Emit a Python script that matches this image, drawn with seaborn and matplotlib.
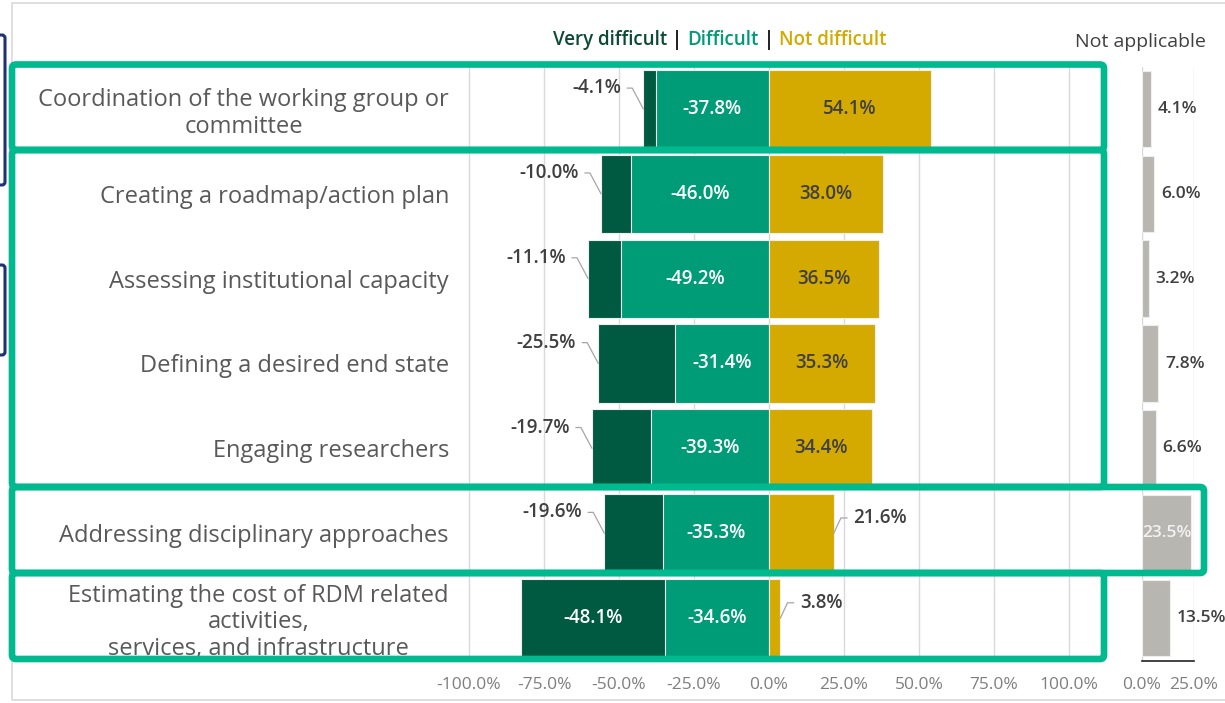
import numpy as np
import pandas as pd
import matplotlib
matplotlib.use("Agg")
import matplotlib.pyplot as plt
import seaborn as sns
from matplotlib.patches import FancyBboxPatch
from matplotlib.transforms import IdentityTransform


categories = [
    "Coordination of the working group or\ncommittee",
    "Creating a roadmap/action plan",
    "Assessing institutional capacity",
    "Defining a desired end state",
    "Engaging researchers",
    "Addressing disciplinary approaches",
    "Estimating the cost of RDM related\nactivities,\nservices, and infrastructure",
]
very_difficult = [4.1, 10.0, 11.1, 25.5, 19.7, 19.6, 48.1]
difficult = [37.8, 46.0, 49.2, 31.4, 39.3, 35.3, 34.6]
not_difficult = [54.1, 38.0, 36.5, 35.3, 34.4, 21.6, 3.8]
not_applicable = [4.1, 6.0, 3.2, 7.8, 6.6, 23.5, 13.5]
x_ticks = [-100, -75, -50, -25, 0, 25, 50, 75, 100]
na_ticks = [0, 25]

C_VERY = "#005a41"
C_DIFF = "#009b77"
C_NOT = "#d5aa00"
C_NA = "#b8b6b1"
C_BOX = "#00b98e"
C_NAVY = "#1f3272"
TXT = "#404040"

sns.set_theme(style="white")
plt.rcParams["font.family"] = ["Open Sans", "DejaVu Sans"]

df = pd.DataFrame({
    "category": categories,
    "very": very_difficult,
    "difficult": difficult,
    "not_difficult": not_difficult,
    "not_applicable": not_applicable,
})
df["neg_total"] = -(df["very"] + df["difficult"])
df["neg_diff"] = -df["difficult"]

W, H = 1225, 703
fig = plt.figure(figsize=(W / 100, H / 100), dpi=100)
ax = fig.add_axes([460 / W, 42.5 / H, 618 / W, 594 / H])
ax2 = fig.add_axes([1142 / W, 42.5 / H, 52 / W, 594 / H])

bar_kw = dict(orient="h", width=0.92, saturation=1, errorbar=None,
              edgecolor="#eeeeee", linewidth=0.8)
sns.barplot(data=df, x="neg_total", y="category", color=C_VERY, ax=ax, **bar_kw)
sns.barplot(data=df, x="neg_diff", y="category", color=C_DIFF, ax=ax, **bar_kw)
sns.barplot(data=df, x="not_difficult", y="category", color=C_NOT, ax=ax, **bar_kw)

ax.set_xlim(-103, 103)
ax.set_ylim(6.5, -0.5)
ax.set_xticks(x_ticks)
ax.set_xticklabels([f"{t:.1f}%" for t in x_ticks])
ax.xaxis.grid(True, color="#d9d9d9", lw=1)
ax.set_axisbelow(True)
ax.set_xlabel("")
ax.set_ylabel("")
for s in ax.spines.values():
    s.set_visible(False)
ax.tick_params(axis="x", length=0, pad=12, labelsize=12.5, labelcolor="#7f7f7f")
ax.tick_params(axis="y", length=0, pad=8, labelsize=17, labelcolor="#595959")
for lab in ax.get_yticklabels():
    lab.set_multialignment("center")
    lab.set_linespacing(1.15)

lab_kw = dict(fontsize=13.5, fontweight="semibold", va="center")
for i in range(len(categories)):
    v, d, n = very_difficult[i], difficult[i], not_difficult[i]
    # difficult (always inside)
    ax.text(-d / 2, i, f"-{d:.1f}%", ha="center", color="white", **lab_kw)
    # very difficult
    if v > 30:
        ax.text(-(d + v / 2), i, f"-{v:.1f}%", ha="center", color="white", **lab_kw)
    else:
        ax.annotate(f"-{v:.1f}%", xy=(-(d + v), i), xytext=(-16, 15),
                    textcoords="offset points", ha="right", color=TXT,
                    arrowprops=dict(arrowstyle="-", color="#a6a6a6", lw=0.9,
                                    shrinkA=2, shrinkB=0,
                                    connectionstyle="angle,angleA=0,angleB=118,rad=0"),
                    **lab_kw)
    # not difficult
    if n > 25:
        ax.text(n / 2, i, f"{n:.1f}%", ha="center", color=TXT, **lab_kw)
    else:
        ax.annotate(f"{n:.1f}%", xy=(n, i), xytext=(14, 11),
                    textcoords="offset points", ha="left", color=TXT,
                    arrowprops=dict(arrowstyle="-", color="#a6a6a6", lw=0.9,
                                    shrinkA=2, shrinkB=0,
                                    connectionstyle="angle,angleA=0,angleB=65,rad=0"),
                    **lab_kw)

# not applicable panel
sns.barplot(data=df, x="not_applicable", y="category", color=C_NA, ax=ax2,
            orient="h", width=0.9, saturation=1, errorbar=None,
            edgecolor="#eeeeee", linewidth=0.8)
ax2.set_xlim(0, 25)
ax2.set_ylim(6.5, -0.5)
ax2.set_xticks(na_ticks)
ax2.set_xticklabels([f"{t:.1f}%" for t in na_ticks])
ax2.xaxis.grid(True, color="#d9d9d9", lw=1)
ax2.set_axisbelow(True)
ax2.set_xlabel("")
ax2.set_ylabel("")
for k, s in ax2.spines.items():
    s.set_visible(k == "bottom")
ax2.spines["bottom"].set_color("#222222")
ax2.spines["bottom"].set_linewidth(1.2)
ax2.tick_params(axis="y", left=False, labelleft=False)
ax2.tick_params(axis="x", direction="in", length=5, width=1.2, color="#222222",
                pad=12, labelsize=12.5, labelcolor="#7f7f7f")
na_kw = dict(lab_kw, fontsize=12.5)
for i, na in enumerate(not_applicable):
    if na > 20:
        ax2.text(na / 2, i, f"{na:.1f}%", ha="center", color="#f2f2f2", **na_kw)
    else:
        ax2.annotate(f"{na:.1f}%", xy=(na, i), xytext=(5, 0),
                     textcoords="offset points", ha="left", color=TXT, **na_kw)

# header texts
hdr = dict(fontsize=13.5, va="center")
t1 = fig.text(553 / W, 1 - 40 / H, "Very difficult", color="#0b4a36",
              fontweight="semibold", **hdr)
t2 = ax.annotate(" | ", xy=(1, 0.5), xycoords=t1, color="#262626",
                 fontweight="bold", **hdr)
t3 = ax.annotate("Difficult", xy=(1, 0.5), xycoords=t2, color=C_DIFF,
                 fontweight="semibold", **hdr)
t4 = ax.annotate(" | ", xy=(1, 0.5), xycoords=t3, color="#262626",
                 fontweight="bold", **hdr)
ax.annotate("Not difficult", xy=(1, 0.5), xycoords=t4, color=C_NOT,
            fontweight="semibold", **hdr)
fig.text(1140 / W, 1 - 42 / H, "Not applicable", color=TXT, fontsize=14,
         ha="center", va="center")

# outer frame
fig.add_artist(plt.Rectangle((12, 3), 1300, 697, transform=IdentityTransform(),
                             fill=False, edgecolor="#d9d9d9", lw=1.2, zorder=0))

# highlight boxes (pixel coordinates, origin top-left)
boxes = [(12, 64.5, 1104, 150), (12, 150, 1104, 487),
         (12, 487, 1204, 573), (12, 573, 1104, 659)]
for x0, y0, x1, y1 in boxes:
    fig.add_artist(FancyBboxPatch((x0, H - y1), x1 - x0, y1 - y0,
                                  boxstyle="round,pad=0,rounding_size=4",
                                  transform=IdentityTransform(), fill=False,
                                  edgecolor=C_BOX, lw=4.8, zorder=20))
for y0, y1 in [(35, 185), (265, 355)]:
    fig.add_artist(FancyBboxPatch((-30, H - y1), 35, y1 - y0,
                                  boxstyle="round,pad=0,rounding_size=3",
                                  transform=IdentityTransform(), fill=False,
                                  edgecolor=C_NAVY, lw=2.2, zorder=20))

fig.savefig("out.png", dpi=100)
